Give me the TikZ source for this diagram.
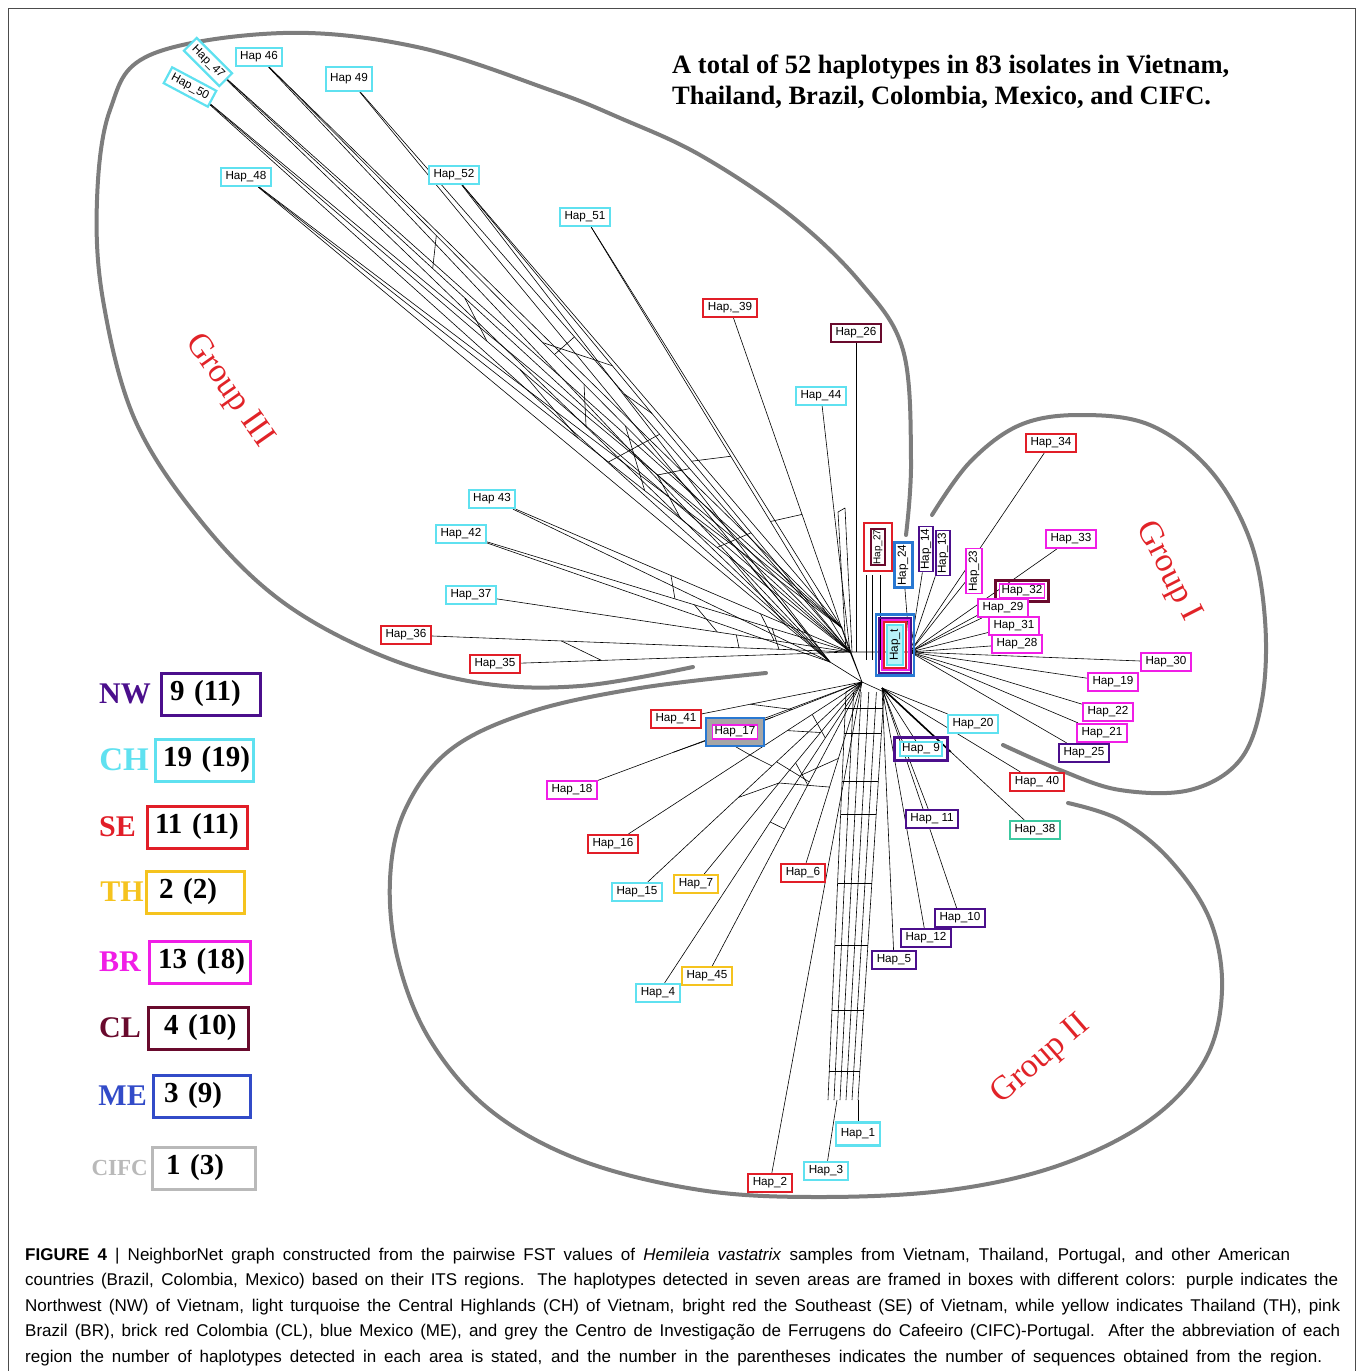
\documentclass[tikz,border=0pt]{standalone}
\usepackage{fontspec}
\setmainfont{Liberation Serif}
\newfontfamily\hapfont{Liberation Sans}
\usetikzlibrary{calc}
\usetikzlibrary{positioning}

\definecolor{nwc}{RGB}{75,15,140}
\definecolor{chc}{RGB}{95,225,240}
\definecolor{sec}{RGB}{225,30,40}
\definecolor{thc}{RGB}{245,195,30}
\definecolor{brc}{RGB}{240,30,230}
\definecolor{clc}{RGB}{105,10,45}
\definecolor{mec}{RGB}{50,75,200}
\definecolor{cifcc}{RGB}{185,185,185}
\definecolor{grpc}{RGB}{125,125,125}
\definecolor{tealc}{RGB}{60,200,160}
\definecolor{blu}{RGB}{40,120,210}
\definecolor{grpred}{RGB}{225,35,40}

\pgfdeclarelayer{bg}
\pgfsetlayers{bg,main}

\tikzset{
  hapbox/.style={draw=#1,line width=2.2pt,fill=white,inner xsep=4.5pt,inner ysep=2pt,
    minimum height=18pt,font=\hapfont\fontsize{11.7}{12}\selectfont},
  hapbox/.default=chc,
  vbox/.style={hapbox=#1,rotate=90,inner xsep=2pt},
  legbox/.style={draw=#1,line width=3pt,minimum height=42pt,anchor=west,align=left,
    inner xsep=3pt,font=\bfseries\fontsize{29}{30}\selectfont},
  legkey/.style={text=#1,inner sep=0pt,font=\bfseries\fontsize{30}{30}\selectfont},
  grouplab/.style={text=grpred,font=\fontsize{34}{34}\selectfont},
  outline/.style={draw=grpc,line width=4pt,line cap=round},
  net/.style={line width=0.6pt},
  capline/.style={anchor=base west,inner sep=0pt,font=\hapfont\fontsize{17}{18}\selectfont}
}

\begin{document}
\begin{tikzpicture}[x=1pt,y=-1pt]
\useasboundingbox (0,0) rectangle (1360,1371);
\draw[black!70,line width=0.8pt] (8,1371) -- (8,8) -- (1355,8) -- (1355,1371);

\node[anchor=north west,inner sep=0pt,align=left,font=\bfseries\fontsize{26.5}{30.5}\selectfont] (title) at (672,55)
  {A total of 52 haplotypes in 83 isolates in Vietnam,\\Thailand, Brazil, Colombia, Mexico, and CIFC.};

\draw[outline] plot[smooth,tension=0.6] coordinates {(906,535) (911,460) (903,350) (860,282) (790,215) (700,155)
  (620,118) (550,90) (417,47) (283,33) (150,55) (110,110) (97,200) (103,300) (135,420) (200,520) (280,600)
  (380,655) (480,683) (580,686) (693,667)};
\draw[outline] plot[smooth,tension=0.6] coordinates {(766,673) (640,688) (530,712) (450,750) (405,810) (390,880)
  (398,960) (430,1040) (490,1110) (580,1160) (700,1190) (820,1197) (950,1190) (1060,1165) (1150,1120)
  (1205,1060) (1222,990) (1210,920) (1170,860) (1120,820) (1068,803)};
\draw[outline] plot[smooth,tension=0.6] coordinates {(932,515) (970,462) (1020,425) (1080,415) (1150,425)
  (1210,470) (1250,540) (1265,620) (1262,700) (1240,760) (1190,790) (1120,790) (1060,770) (1003,745)};

\node[grouplab,rotate=-55] (g3) at (229,391) {Group III};
\node[grouplab,rotate=-63] (g1) at (1168,572) {Group I};
\node[grouplab,rotate=41] (g2) at (1041,1060) {Group II};

\node[hapbox] (h46) at (259,57) {Hap 46};
\node[hapbox,rotate=-45] (h47) at (208,62) {Hap\_47};
\node[hapbox,rotate=-28] (h50) at (190,87) {Hap\_50};
\node[hapbox,minimum height=24pt] (h49) at (349,79) {Hap 49};
\node[hapbox] (h48) at (246,177) {Hap\_48};
\node[hapbox] (h52) at (454,175) {Hap\_52};
\node[hapbox] (h51) at (585,217) {Hap\_51};
\node[hapbox=sec] (h39) at (730,308) {Hap,\_39};
\node[hapbox=clc] (h26) at (856,333) {Hap\_26};
\node[hapbox] (h44) at (821,396) {Hap\_44};
\node[hapbox] (h43) at (492,499) {Hap 43};
\node[hapbox] (h42) at (461,534) {Hap\_42};
\node[hapbox] (h37) at (471,595) {Hap\_37};
\node[hapbox=sec] (h36) at (406,635) {Hap\_36};
\node[hapbox=sec] (h35) at (495,664) {Hap\_35};

\node[hapbox=sec] (h34) at (1051,443) {Hap\_34};
\node[hapbox=brc] (h33) at (1071,539) {Hap\_33};
\node[draw=clc,line width=2.2pt,minimum width=53,minimum height=21] (h32o) at (1022,591) {};
\node[hapbox=brc,line width=1.8pt,minimum height=14pt,inner ysep=0.5pt,inner xsep=2pt] (h32) at (1022,591) {Hap\_32};
\node[hapbox=brc] (h29) at (1003,608) {Hap\_29};
\node[hapbox=brc] (h31) at (1014,626) {Hap\_31};
\node[hapbox=brc] (h28) at (1017,644) {Hap\_28};
\node[hapbox=brc] (h30) at (1166,662) {Hap\_30};
\node[hapbox=brc] (h19) at (1113,682) {Hap\_19};
\node[hapbox=brc] (h22) at (1108,712) {Hap\_22};
\node[hapbox=brc] (h21) at (1102,733) {Hap\_21};
\node[hapbox=nwc] (h25) at (1084,753) {Hap\_25};
\node[hapbox] (h20) at (973,724) {Hap\_20};
\node[draw=nwc,line width=2.2pt,minimum width=53,minimum height=23] (h9o) at (921,749) {};
\node[hapbox,minimum height=14pt,inner ysep=0.5pt,inner xsep=2pt] (h9) at (921,749) {Hap\_ 9};
\node[hapbox=sec] (h40) at (1037,782) {Hap\_ 40};
\node[hapbox=tealc,line width=1.6pt] (h38) at (1035,830) {Hap\_38};
\node[hapbox=nwc] (h11) at (932,819) {Hap\_ 11};
\node[hapbox=nwc] (h10) at (960,918) {Hap\_10};
\node[hapbox=nwc] (h12) at (926,938) {Hap\_12};
\node[hapbox=nwc] (h5) at (894,960) {Hap\_5};

\node[draw=sec,line width=2pt,rotate=90,minimum width=48,minimum height=28] (h27o) at (878,547) {};
\node[vbox=clc,inner xsep=0.5pt,minimum height=14pt,font=\hapfont\fontsize{10}{11}\selectfont] (h27) at (878,547) {Hap\_27};
\node[vbox=blu,line width=3pt] (h24) at (903,565) {Hap\_24};
\node[vbox=nwc,line width=1.8pt,minimum height=14pt,inner ysep=0.5pt] (h14) at (926,549) {Hap\_14};
\node[vbox=nwc,line width=1.8pt,minimum height=14pt,inner ysep=0.5pt] (h13) at (943,553) {Hap\_13};
\node[vbox=brc,line width=1.8pt,minimum height=16pt,inner ysep=1pt] (h23) at (974,571) {Hap\_23};

\node[draw=blu,line width=2.6pt,minimum width=38,minimum height=61] (hclu) at (895,645) {};
\node[draw=nwc,line width=2pt,minimum width=32,minimum height=55] at (895,645) {};
\node[draw=brc,line width=2pt,minimum width=27,minimum height=50] at (895,645) {};
\node[draw=sec,line width=1.4pt,minimum width=22,minimum height=46] at (895,645) {};
\node[vbox,fill=chc!45,minimum width=40,minimum height=16,inner xsep=0pt,inner ysep=0pt] (ht) at (895,645) {Hap\_t};

\node[hapbox=sec] (h41) at (676,719) {Hap\_41};
\node[draw=blu,fill=black!35,line width=2pt,minimum width=58,minimum height=28] (h17o) at (735,732) {};
\node[hapbox=brc,line width=1.8pt,minimum height=14pt,inner ysep=0.5pt,inner xsep=2pt] (h17) at (735,732) {Hap\_17};
\node[hapbox=brc] (h18) at (572,790) {Hap\_18};
\node[hapbox=sec] (h16) at (613,844) {Hap\_16};
\node[hapbox] (h15) at (637,892) {Hap\_15};
\node[hapbox=thc,line width=1.8pt] (h7) at (696,884) {Hap\_7};
\node[hapbox=sec,line width=1.8pt] (h6) at (803,873) {Hap\_6};
\node[hapbox=thc,line width=1.8pt] (h45) at (707,976) {Hap\_45};
\node[hapbox] (h4) at (658,993) {Hap\_4};
\node[hapbox,minimum height=23pt] (h1) at (858,1134) {Hap\_1};
\node[hapbox] (h3) at (826,1171) {Hap\_3};
\node[hapbox=sec,line width=1.8pt] (h2) at (770,1183) {Hap\_2};

\coordinate (c3) at (850,652);
\coordinate (c3b) at (830,662);
\coordinate (c3c) at (842,628);
\coordinate (c1) at (910,652);
\coordinate (c2) at (862,682);
\coordinate (c2r) at (882,688);
\coordinate (lt1) at (846,692);
\coordinate (lt2) at (884,692);
\coordinate (lb1) at (828,1100);
\coordinate (lb2) at (858,1100);

\begin{pgfonlayer}{bg}
\foreach \n in {h46,h47,h50,h48,h49,h52,h51,h39,h44,h43,h42,h37,h36,h35}
  \draw[net] (\n) -- (c3);
\foreach \n in {h46,h47,h50,h48,h49,h52,h43,h42}
  \draw[net] (\n) -- (c3b);
\foreach \n in {h46,h47,h50,h48,h52,h51}
  \draw[net] (\n) -- (c3c);
\foreach \a/\b/\s/\t in {h46/h47/0.3/0.35,h47/h50/0.4/0.45,h50/h48/0.5/0.55,h48/h49/0.6/0.62,
    h49/h52/0.55/0.5,h52/h51/0.6/0.55,h46/h50/0.55/0.6,h47/h48/0.7/0.72,h43/h42/0.5/0.55,
    h42/h37/0.6/0.65,h37/h36/0.7/0.75,h36/h35/0.35/0.3,h43/h37/0.75/0.8,h48/h43/0.8/0.82,
    h51/h39/0.7/0.6,h49/h46/0.45/0.5,h52/h48/0.75/0.78,h49/h47/0.68/0.7,h50/h43/0.85/0.88,
    h46/h48/0.62/0.66,h52/h46/0.4/0.48,h42/h36/0.8/0.84}
  \draw[net] ($(\a)!\s!(c3)$) -- ($(\b)!\t!(c3)$);
\draw[net] (h26) -- (h26 |- c3);
\foreach \x in {866,872,880}
  \draw[net] (\x,575) -- (\x,660);
\draw[net] (838,512) -- (846,652) (845,508) -- (852,652) (838,512) -- (845,508);
\draw[net] (c3) -- (c2) (c3b) -- (c2) (c3) -- (c1) (c3c) -- (c2);

\foreach \n in {h34,h33,h23,h32,h29,h31,h28,h30,h19,h22,h21,h25,h14,h13,h24}
  \draw[net] (c1) -- (\n);

\foreach \n in {h41,h17,h18,h16,h15,h7,h6,h45,h4,h2}
  \draw[net] (c2) -- (\n);
\foreach \a/\b/\s/\t in {h18/h16/0.5/0.55,h16/h15/0.55/0.6,h15/h7/0.45/0.5,h7/h45/0.6/0.65,
    h45/h4/0.5/0.55,h17/h18/0.3/0.35,h16/h7/0.7/0.75,h4/h6/0.7/0.6,h41/h17/0.4/0.45,h15/h45/0.62/0.66,
    h16/h4/0.8/0.82,h7/h6/0.5/0.45}
  \draw[net] ($(\a)!\s!(c2)$) -- ($(\b)!\t!(c2)$);

\foreach \i in {0,0.2,0.4,0.6,0.8,1}
  \draw[net] ($(lt1)!\i!(lt2)$) -- ($(lb1)!\i!(lb2)$);
\foreach \t in {0.04,0.1,0.22,0.3,0.47,0.62,0.78,0.93}
  \draw[net] ($(lt1)!\t!(lb1)$) -- ($(lt2)!\t!(lb2)$);
\draw[net] (c2) -- (lt1) (c2) -- (lt2);
\draw[net] (lb2) -- (h1);
\draw[net] ($(lb1)!0.3!(lb2)$) -- (h3);

\foreach \n in {h9,h11,h10,h12,h5,h20,h40,h38}
  \draw[net] (c2r) -- (\n);
\draw[line width=1.6pt] (c2r) -- ($(c2r)!0.45!(h38)$);
\end{pgfonlayer}

\node[legbox=nwc,minimum width=99,text width=90pt] (nwbox) at (160,694) {\mbox{\hspace*{4pt}9 (11)}};
\node[legkey=nwc,left=9pt of nwbox] (nwkey) {NW};
\node[legbox=chc,minimum width=98,text width=89pt] (chbox) at (154,760) {\mbox{\hspace*{3pt}19 (19)}};
\node[legkey=chc,left=5pt of chbox,font=\bfseries\fontsize{33}{33}\selectfont] (chkey) {CH};
\node[legbox=sec,minimum width=100,text width=91pt] (sebox) at (146,827) {\mbox{\hspace*{3pt}11 (11)}};
\node[legkey=sec,left=10pt of sebox] (sekey) {SE};
\node[legbox=thc,minimum width=98,text width=89pt] (thbox) at (145,892) {\mbox{\hspace*{8pt}2 (2)}};
\node[legkey=thc,left=1pt of thbox] (thkey) {TH};
\node[legbox=brc,minimum width=101,text width=92pt] (brbox) at (148,962) {\mbox{\hspace*{4pt}13 (18)}};
\node[legkey=brc,left=7pt of brbox] (brkey) {BR};
\node[legbox=clc,minimum width=100,text width=91pt] (clbox) at (147,1028) {\mbox{\hspace*{11pt}4 (10)}};
\node[legkey=clc,left=6pt of clbox] (clkey) {CL};
\node[legbox=mec,minimum width=97,text width=88pt] (mebox) at (152,1096) {\mbox{\hspace*{6pt}3 (9)}};
\node[legkey=mec,left=5pt of mebox] (mekey) {ME};
\node[legbox=cifcc,minimum width=103,text width=94pt] (cifbox) at (151,1168) {\mbox{\hspace*{9pt}1 (3)}};
\node[legkey=cifcc,left=3pt of cifbox,font=\bfseries\fontsize{23}{23}\selectfont] (cifkey) {CIFC};

\node[capline] (cap1) at (25,1260) {\makebox[1265pt][s]{\textbf{FIGURE 4} | NeighborNet graph constructed from the pairwise FST values of \textit{Hemileia vastatrix} samples from Vietnam, Thailand, Portugal, and other American}};
\node[capline] (cap2) at (25,1285.5) {\makebox[1313pt][s]{countries (Brazil, Colombia, Mexico) based on their ITS regions. The haplotypes detected in seven areas are framed in boxes with different colors: purple indicates the}};
\node[capline] (cap3) at (25,1311) {\makebox[1315pt][s]{Northwest (NW) of Vietnam, light turquoise the Central Highlands (CH) of Vietnam, bright red the Southeast (SE) of Vietnam, while yellow indicates Thailand (TH), pink}};
\node[capline] (cap4) at (25,1336.5) {\makebox[1315pt][s]{Brazil (BR), brick red Colombia (CL), blue Mexico (ME), and grey the Centro de Investigação de Ferrugens do Cafeeiro (CIFC)-Portugal. After the abbreviation of each}};
\node[capline] (cap5) at (25,1362) {\makebox[1297pt][s]{region the number of haplotypes detected in each area is stated, and the number in the parentheses indicates the number of sequences obtained from the region.}};
\end{tikzpicture}
\end{document}
